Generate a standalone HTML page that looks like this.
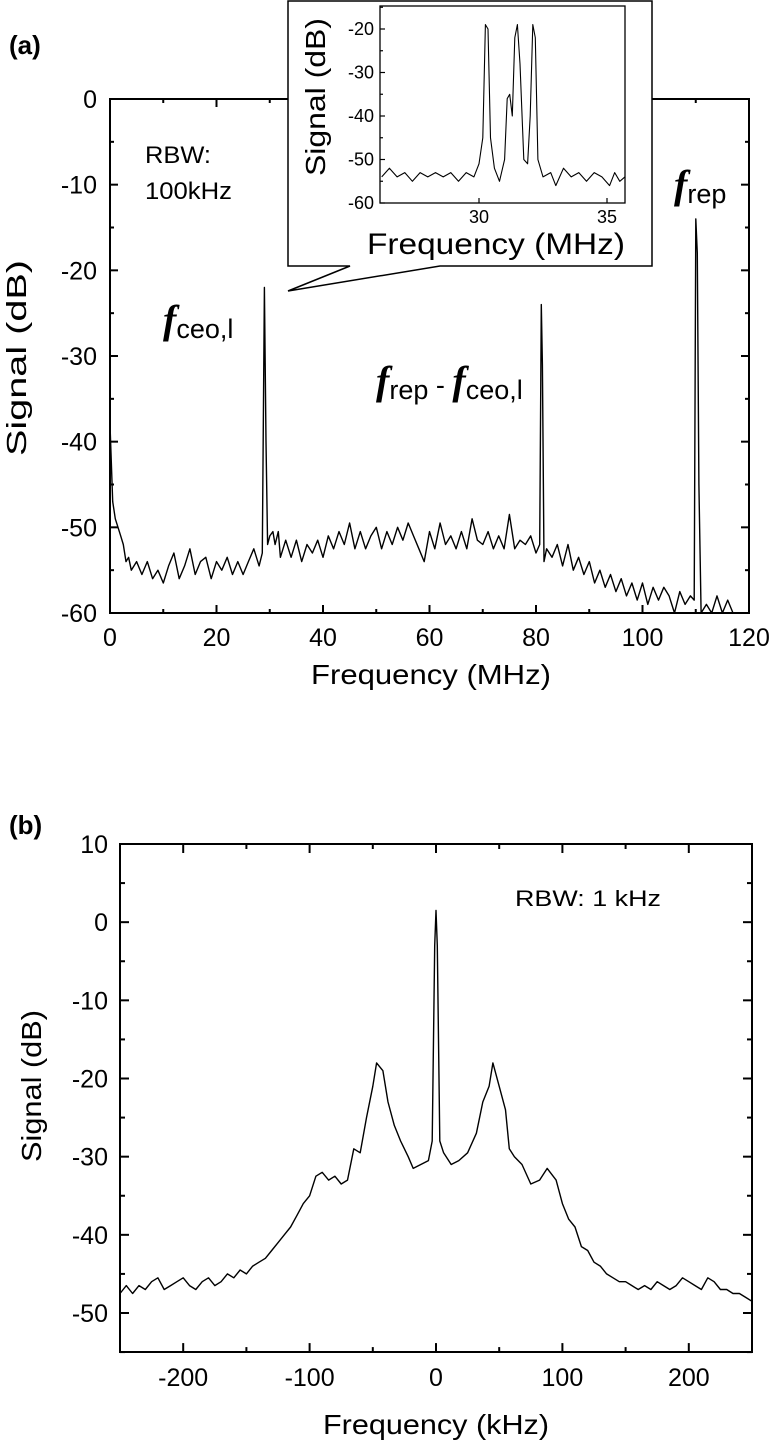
<!DOCTYPE html>
<html><head><meta charset="utf-8"><style>
html,body{margin:0;padding:0;background:#fff;}
svg{display:block;font-family:"Liberation Sans",Arial,sans-serif;}
</style></head><body>
<svg id="fig" width="774" height="1443" viewBox="0 0 774 1443" xmlns="http://www.w3.org/2000/svg">
<text x="9" y="54" font-size="26" font-weight="bold">(a)</text>
<text x="9" y="834" font-size="26" font-weight="bold">(b)</text>
<g id="ga"></g>
<g id="gi"></g>
<g id="gb"></g>
</svg>
<script>
// ---- chart (a) data ----
const aFreq = [0,0.5,1,1.5,2,2.5,3,3.5,4,5,6,7,8,9,10,11,12,13,14,15,16,17,18,19,20,21,22,23,24,25,26,27,28,28.6,29,29.3,29.6,30,30.6,31,31.6,32,33,34,35,36,37,38,39,40,41,42,43,44,45,46,47,48,49,50,51,52,53,54,55,56,57,58,59,60,61,62,63,64,65,66,67,68,69,70,71,72,73,74,75,76,77,78,79,80,80.7,81,81.2,81.5,82,83,84,85,86,87,88,89,90,91,92,93,94,95,96,97,98,99,100,101,102,103,104,105,106,107,108,109,109.7,110,110.3,110.6,111,112,113,114,115,116,117];
const aSignal = [-38,-47,-49,-50,-51,-52,-54,-53.5,-55,-54,-55.5,-54,-56,-55,-56.5,-54.5,-53,-56,-54.5,-52.5,-55.5,-54,-53.5,-56,-54,-55,-53.5,-55.5,-54,-55.5,-54,-52.5,-54.5,-53,-22,-40,-52,-51,-50.5,-52,-50.5,-53.5,-51.5,-53.5,-51.5,-54,-52,-53,-51.5,-53.5,-51,-52.5,-50.5,-52,-49.5,-52.5,-50.5,-52.5,-51,-50,-52.5,-50.5,-52,-50,-51.5,-49.5,-51,-52.5,-54,-50.5,-52.5,-49.5,-52,-51,-52.5,-50.5,-52.5,-49,-51.5,-52,-50.5,-52.5,-51,-52.5,-48.5,-52.5,-51.5,-52,-51,-53,-52,-24,-31,-54,-52.5,-53.5,-52,-54.5,-52,-55,-53.5,-55.5,-54,-56.5,-55,-57,-55.5,-57.5,-56,-58,-56.5,-58.5,-56.5,-59,-57,-58.5,-57,-58,-60,-57.5,-59,-58,-58.5,-14,-18,-45,-60,-59,-60,-58,-60,-58.5,-60];
const aXTicks = [0,20,40,60,80,100,120];
const aYTicks = [0,-10,-20,-30,-40,-50,-60];
// ---- inset data ----
const iFreq = [26.2,26.5,26.8,27.1,27.4,27.7,28,28.3,28.6,28.9,29.2,29.5,29.8,30.0,30.15,30.25,30.35,30.45,30.6,30.8,31.0,31.1,31.2,31.3,31.4,31.5,31.6,31.75,31.9,32.0,32.1,32.2,32.3,32.5,32.8,33.0,33.3,33.6,33.9,34.2,34.5,34.8,35.1,35.3,35.5,35.7];
const iSignal = [-54,-52,-54,-53,-55,-53,-54,-53,-54,-53,-55,-53,-54,-51,-45,-19,-20,-45,-52,-55,-50,-36,-35,-40,-22,-19,-28,-50,-51,-40,-19,-22,-50,-54,-53,-56,-52,-54,-53,-55,-53,-54,-56,-53,-55,-54];
const iXTicks = [30,35];
const iYTicks = [-20,-30,-40,-50,-60];
// ---- chart (b) data ----
const bFreq = [-250,-245,-240,-235,-230,-225,-220,-215,-210,-205,-200,-195,-190,-185,-180,-175,-170,-165,-160,-155,-150,-145,-140,-135,-130,-125,-120,-115,-110,-105,-100,-95,-90,-85,-80,-75,-70,-65,-60,-55,-50,-47,-42,-38,-33,-28,-22,-18,-12,-6,-3,-1,0,1,3,6,12,18,25,32,37,42,45,50,55,58,62,68,75,82,88,95,100,105,110,115,120,125,130,135,140,145,150,155,160,165,170,175,180,185,190,195,200,205,210,215,220,225,230,235,240,245,250];
const bSignal = [-47.5,-46.5,-47.5,-46.5,-47,-46,-45.5,-47,-46.5,-46,-45.5,-46.5,-47,-46,-45.5,-46.5,-46,-45,-45.5,-44.5,-45,-44,-43.5,-43,-42,-41,-40,-39,-37.5,-36,-35,-32.5,-32,-33,-32.5,-33.5,-33,-29,-29.5,-25,-21,-18,-19,-23,-26,-28,-30,-31.5,-31,-30.5,-28,-3,1.5,-3,-28,-29.5,-31,-30.5,-29.5,-27,-23,-21,-18,-21,-24,-29,-30,-31,-33.5,-33,-31.5,-33,-36,-38,-39,-41.5,-42,-43.5,-44,-45,-45.5,-46,-46,-46.5,-47,-46.5,-47,-46,-46.5,-47,-46.5,-45.5,-46,-46.5,-47,-45.5,-46,-47,-47,-47.5,-47.5,-48,-48.5];
const bXTicks = [-200,-100,0,100,200];
const bYTicks = [10,0,-10,-20,-30,-40,-50];

const NS='http://www.w3.org/2000/svg';
function mk(parent,tag,attrs,txt){const e=document.createElementNS(NS,tag);for(const k in attrs)e.setAttribute(k,attrs[k]);if(txt!==undefined)e.textContent=txt;parent.appendChild(e);return e;}
function scale(d0,d1,r0,r1){return v=>r0+(v-d0)*(r1-r0)/(d1-d0);}

function drawAxes(g,sx,sy,xMajor,xMinor,yMajor,yMinor,xr,yr,maj,minL,lw){
  const L=sx(xr[0]),R=sx(xr[1]),T=sy(yr[1]),B=sy(yr[0]);
  for(let v=xr[0];v<=xr[1]+1e-9;v+=xMinor){
    const isMaj=Math.abs(Math.round(v/xMajor)*xMajor-v)<1e-6;const l=isMaj?maj:minL;const X=sx(v);
    const t=mk(g,'line',{x1:X,x2:X,y1:B,y2:B-l,stroke:'#000','stroke-width':lw});
    
    
    const t2=mk(g,'line',{x1:X,x2:X,y1:T,y2:T+l,stroke:'#000','stroke-width':lw});
    
    
  }
  for(let v=yr[0];v<=yr[1]+1e-9;v+=yMinor){
    const isMaj=Math.abs(Math.round(v/yMajor)*yMajor-v)<1e-6;const l=isMaj?maj:minL;const Y=sy(v);
    const t=mk(g,'line',{x1:L,x2:L+l,y1:Y,y2:Y,stroke:'#000','stroke-width':lw});
    
    
    const t2=mk(g,'line',{x1:R,x2:R-l,y1:Y,y2:Y,stroke:'#000','stroke-width':lw});
    
    
  }
}
function drawLine(g,sx,sy,xs,ys,w,name){
  let d='';xs.forEach((x,i)=>{d+=(i?'L':'M')+sx(x).toFixed(1)+' '+sy(ys[i]).toFixed(1);});
  const p=mk(g,'path',{d:d,fill:'none',stroke:'#000','stroke-width':w,'stroke-linejoin':'round'});
  
  
}

// ---- chart a ----
(function(){
  const g=document.getElementById('ga');
  const sx=scale(0,120,110,749), sy=scale(0,-60,99,613);
  const fr=mk(g,'rect',{x:110,y:99,width:639,height:514,fill:'none',stroke:'#000','stroke-width':2});
  
  
  drawAxes(g,sx,sy,20,10,10,5,[0,120],[-60,0],8,4,2);
  drawLine(g,sx,sy,aFreq,aSignal,1.4,'spectrum-line');
  aXTicks.forEach(v=>{const t=mk(g,'text',{x:sx(v),y:646,'font-size':25,'text-anchor':'middle'},String(v));
    
    });
  aYTicks.forEach(v=>{const t=mk(g,'text',{x:97,y:sy(v)+9,'font-size':25,'text-anchor':'end'},String(v));
    
    });
  let t=mk(g,'text',{x:431,y:684,'font-size':28,'text-anchor':'middle',textLength:240,lengthAdjust:'spacingAndGlyphs'},'Frequency (MHz)');
  
  t=mk(g,'text',{x:0,y:0,'font-size':28,'text-anchor':'middle',transform:'translate(26,358) rotate(-90)',textLength:196,lengthAdjust:'spacingAndGlyphs'},'Signal (dB)');
  
  t=mk(g,'text',{x:145,y:163,'font-size':24,textLength:66,lengthAdjust:'spacingAndGlyphs'},'RBW:');
  
  t=mk(g,'text',{x:145,y:199,'font-size':24,textLength:87,lengthAdjust:'spacingAndGlyphs'},'100kHz');
  
  function flab(x,y,parts,name){const e=mk(g,'text',{x:x,y:y});
    parts.forEach(p=>{mk(e,'tspan',p.f?{'font-family':'"Liberation Serif",serif','font-style':'italic','font-weight':'bold','font-size':40,dy:p.dy||0}:{'font-size':27,dy:p.dy||0},p.t);});}
  flab(163,333,[{f:1,t:'f'},{t:'ceo,l',dy:5}],'fceo-label');
  flab(376,394,[{f:1,t:'f'},{t:'rep',dy:5},{t:' - ',dy:-5},{f:1,t:'f'},{t:'ceo,l',dy:5}],'frep-minus-fceo-label');
  flab(674,198,[{f:1,t:'f'},{t:'rep',dy:5}],'frep-label');
})();

// ---- inset ----
(function(){
  const g=document.getElementById('gi');
  const c=mk(g,'path',{d:'M288 1 H652 V266 H440 L288 291 L350 266 H288 Z',fill:'#fff',stroke:'#000','stroke-width':1.5});
  
  
  const sx=scale(30,35,479,607), sy=scale(-20,-60,29,203);
  const fr=mk(g,'rect',{x:380,y:6,width:245,height:197,fill:'none',stroke:'#000','stroke-width':1.3});
  
  
  iXTicks.forEach(v=>{const X=sx(v);const l=mk(g,'line',{x1:X,x2:X,y1:203,y2:198,stroke:'#000','stroke-width':1.2});
    
    const t=mk(g,'text',{x:X,y:223,'font-size':18,'text-anchor':'middle'},String(v));
    });
  for(let v=-60;v<=-15;v+=5){const Y=sy(v);const l=mk(g,'line',{x1:380,x2:(v%10===0)?385:383,y1:Y,y2:Y,stroke:'#000','stroke-width':1.2});
    }
  iYTicks.forEach(v=>{const t=mk(g,'text',{x:374,y:sy(v)+6,'font-size':18,'text-anchor':'end'},String(v));
    });
  drawLine(g,sx,sy,iFreq,iSignal,1.1,'inset-spectrum-line');
  let t=mk(g,'text',{x:496,y:254,'font-size':30,'text-anchor':'middle',textLength:258,lengthAdjust:'spacingAndGlyphs'},'Frequency (MHz)');
  
  t=mk(g,'text',{x:0,y:0,'font-size':28,'text-anchor':'middle',transform:'translate(325,97) rotate(-90)',textLength:158,lengthAdjust:'spacingAndGlyphs'},'Signal (dB)');
  
})();

// ---- chart b ----
(function(){
  const g=document.getElementById('gb');
  const sx=scale(-250,250,120,752), sy=scale(10,-50,844,1313);
  const fr=mk(g,'rect',{x:120,y:844,width:632,height:508,fill:'none',stroke:'#000','stroke-width':2});
  
  
  drawAxes(g,sx,sy,100,50,10,5,[-250,250],[-55,10],9,5,2);
  drawLine(g,sx,sy,bFreq,bSignal,1.4,'spectrum-line-b');
  bXTicks.forEach(v=>{const t=mk(g,'text',{x:sx(v),y:1386,'font-size':25,'text-anchor':'middle'},String(v));
    
    });
  bYTicks.forEach(v=>{const t=mk(g,'text',{x:108,y:sy(v)+9,'font-size':25,'text-anchor':'end'},String(v));
    
    });
  let t=mk(g,'text',{x:436,y:1434,'font-size':28,'text-anchor':'middle',textLength:226,lengthAdjust:'spacingAndGlyphs'},'Frequency (kHz)');
  
  t=mk(g,'text',{x:0,y:0,'font-size':28,'text-anchor':'middle',transform:'translate(41,1086) rotate(-90)',textLength:152,lengthAdjust:'spacingAndGlyphs'},'Signal (dB)');
  
  t=mk(g,'text',{x:515,y:906,'font-size':22,textLength:146,lengthAdjust:'spacingAndGlyphs'},'RBW: 1 kHz');
  
})();
</script>
</body></html>
